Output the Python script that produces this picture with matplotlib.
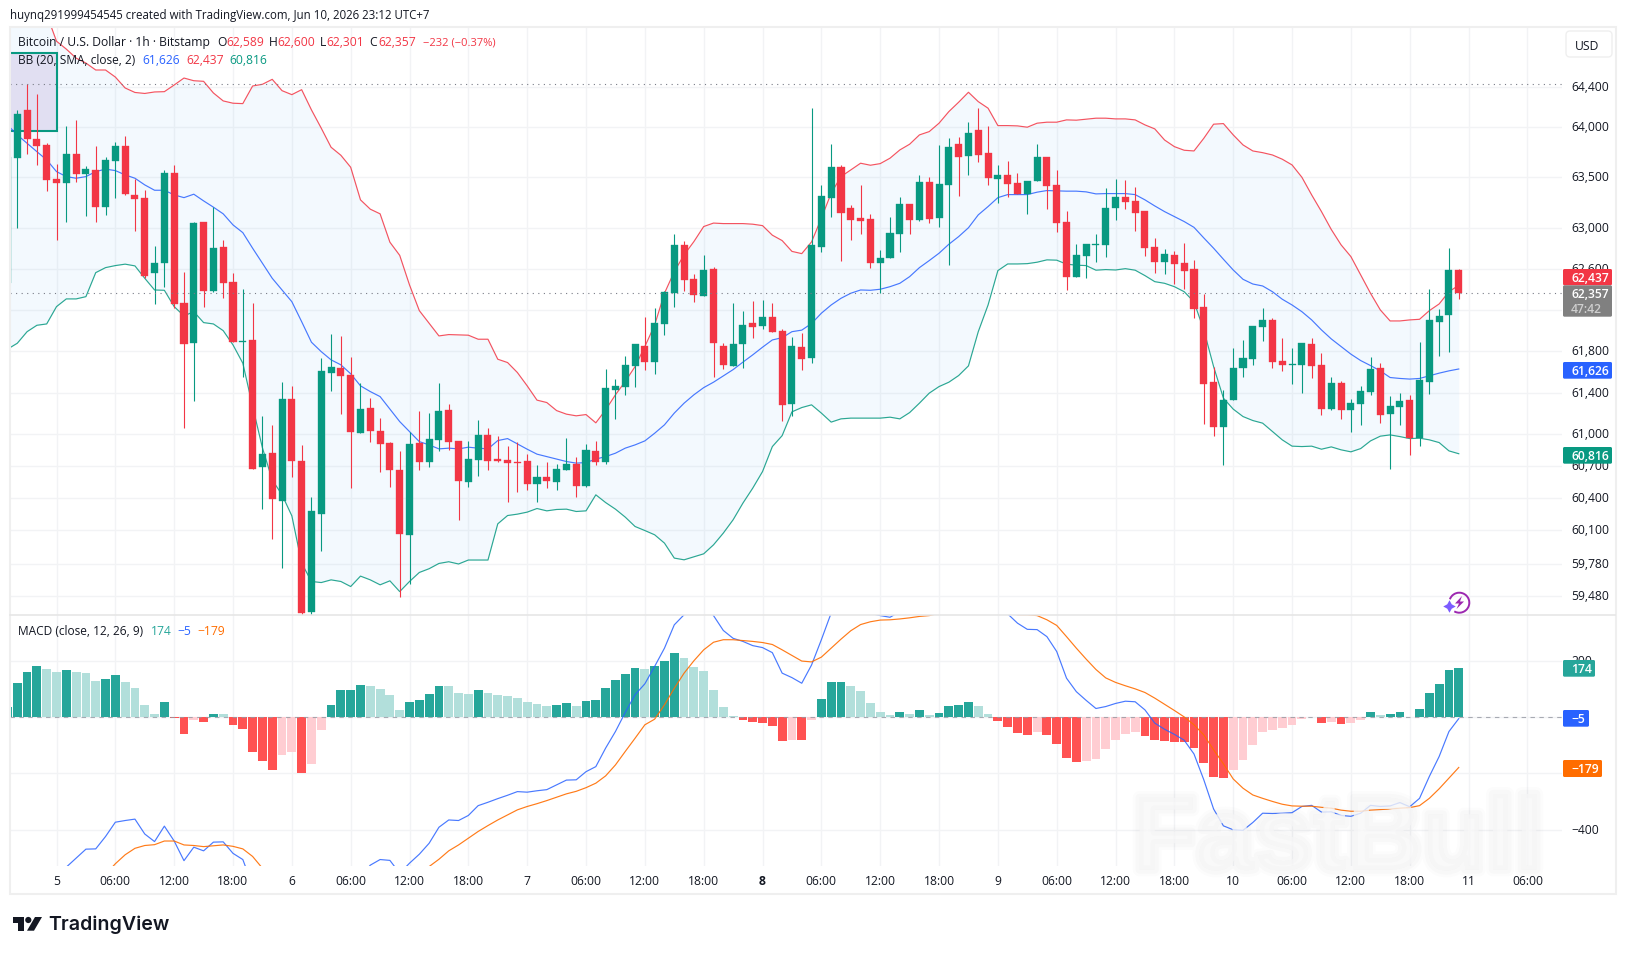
import numpy as np
import matplotlib
matplotlib.use("Agg")
import matplotlib.pyplot as plt
import matplotlib.patheffects as pe
from matplotlib.patches import FancyBboxPatch, Rectangle, Polygon, Circle, Arc
from matplotlib.transforms import ScaledTranslation

plt.rcParams['font.family'] = ['Open Sans', 'DejaVu Sans']

WIDTH, HEIGHT = 1626, 954

# Hourly bars, numbered from midnight on the 5th
bars = np.arange(-5, 144)

open_prices = [
    62459, 63694, 64170, 63880, 63820, 63483, 63446, 63730, 63535, 63572, 63209, 63664, 63810, 63324, 63295, 62560,
    62655, 63541, 62265, 61880, 63058, 62384, 62812, 62469, 61890, 61906, 60686, 60824, 60373, 61339, 60748, 59335,
    60251, 61592, 61637, 61570, 61017, 61253, 61033, 60919, 60663, 60052, 60919, 60742, 60950, 61234, 60938, 60552,
    60761, 60995, 60767, 60758, 60739, 60748, 60533, 60597, 60552, 60666, 60720, 60514, 60843, 60742, 61425, 61457,
    61659, 61848, 61697, 62064, 62365, 62832, 62498, 62335, 62596, 61848, 61659, 61870, 62071, 62045, 62129, 61993,
    61294, 61839, 61736, 62815, 63297, 63601, 63196, 63097, 63087, 62658, 62708, 62943, 63235, 63081, 63453, 63100,
    63426, 63830, 63714, 63969, 63740, 63485, 63522, 63443, 63334, 63466, 63700, 63423, 63058, 62521, 62727, 62835,
    62835, 63199, 63304, 63265, 63166, 62812, 62668, 62734, 62655, 62596, 62226, 61502, 61074, 61330, 61637, 61723,
    62032, 62100, 61704, 61668, 61666, 61868, 61666, 61244, 61492, 61234, 61291, 61406, 61637, 61196, 61263, 61330,
    60967, 61502, 62081, 62148, 62589]
high_prices = [
    63700, 64170, 64427, 64330, 63836, 63631, 64010, 64070, 63611, 63813, 63697, 63850, 63909, 63482, 63373, 62822,
    63571, 63621, 62567, 63060, 63060, 63207, 62881, 62557, 62401, 62265, 61177, 61091, 61502, 61464, 60900, 60408,
    61733, 61964, 61945, 61743, 61492, 61349, 61158, 60928, 60843, 61027, 61225, 61205, 61492, 61291, 60938, 60938,
    61138, 61062, 60986, 60891, 60928, 60815, 60711, 60739, 60720, 60967, 60786, 60910, 60938, 61627, 61531, 61752,
    61868, 62129, 62216, 62381, 62939, 62871, 62547, 62734, 62616, 61877, 62265, 62187, 62284, 62294, 62265, 62013,
    61935, 61974, 64190, 63423, 63830, 63621, 63225, 63423, 63137, 62783, 63107, 63304, 63235, 63522, 63502, 63820,
    63889, 63899, 64050, 64190, 64010, 63621, 63661, 63542, 63463, 63830, 63700, 63572, 63166, 62841, 62841, 62940,
    63393, 63482, 63472, 63403, 63166, 62900, 62792, 62773, 62851, 62685, 62352, 61646, 61425, 61829, 61906, 62042,
    62216, 62119, 61925, 61829, 61877, 61925, 61781, 61550, 61512, 61339, 61464, 61743, 61685, 61368, 61397, 61378,
    61887, 62401, 62206, 62802, 62600]
low_prices = [
    62459, 63000, 63733, 63624, 63367, 62884, 63061, 63456, 63117, 63061, 63127, 63297, 63327, 62972, 62505, 62258,
    62423, 62216, 61065, 61323, 62229, 62371, 62316, 61890, 61553, 60675, 60298, 60016, 59736, 60599, 59307, 59307,
    59904, 61419, 61199, 60495, 61017, 60931, 60645, 60505, 59475, 59593, 60657, 60694, 60846, 60856, 60186, 60505,
    60609, 60666, 60739, 60364, 60458, 60477, 60364, 60495, 60477, 60666, 60402, 60505, 60713, 60723, 61151, 61380,
    61457, 61620, 61582, 61957, 62229, 62384, 62277, 62335, 61553, 61630, 61659, 61640, 61928, 62016, 61987, 61132,
    61180, 61620, 61688, 62766, 63110, 62678, 62884, 62943, 62609, 62365, 62708, 62766, 62943, 63071, 63051, 63012,
    62639, 63317, 63525, 63654, 63426, 63248, 63307, 63337, 63140, 63466, 63189, 62962, 62394, 62521, 62511, 62668,
    62717, 63081, 63189, 62972, 62727, 62560, 62550, 62452, 62403, 62122, 61096, 60988, 60713, 61330, 61553, 61666,
    61897, 61637, 61608, 61483, 61397, 61541, 61186, 61234, 61148, 61024, 61091, 61378, 61110, 60673, 61091, 60805,
    60891, 61387, 61752, 61791, 62301]
close_prices = [
    63700, 64130, 63882, 63813, 63475, 63446, 63730, 63535, 63582, 63209, 63671, 63810, 63337, 63285, 62528, 62655,
    63541, 62258, 61871, 63048, 62384, 62802, 62462, 61890, 61897, 60675, 60815, 60389, 61339, 60751, 59326, 60276,
    61608, 61646, 61560, 61027, 61244, 61036, 60912, 60657, 60063, 60910, 60742, 60957, 61225, 60931, 60562, 60767,
    60995, 60751, 60748, 60732, 60729, 60533, 60597, 60562, 60673, 60720, 60514, 60853, 60742, 61444, 61464, 61666,
    61868, 61697, 62071, 62371, 62832, 62490, 62345, 62586, 61880, 61669, 61868, 62051, 62032, 62129, 61987, 61285,
    61848, 61726, 62832, 63314, 63601, 63150, 63081, 63070, 62658, 62704, 62949, 63235, 63081, 63453, 63090, 63433,
    63800, 63704, 63939, 63723, 63495, 63522, 63436, 63337, 63463, 63700, 63416, 63051, 62521, 62734, 62841, 62841,
    63196, 63304, 63258, 63150, 62805, 62668, 62743, 62649, 62580, 62207, 61486, 61074, 61330, 61637, 61733, 62042,
    62100, 61694, 61666, 61675, 61877, 61656, 61244, 61492, 61234, 61301, 61416, 61627, 61186, 61272, 61320, 60967,
    61521, 62100, 62139, 62586, 62357]

# Bollinger Bands (20, SMA, close, 2)
bb_upper = [
    65160, 65240, 65235, 65200, 65134, 64862, 64782, 64691, 64641, 64571, 64571, 64500, 64390, 64345, 64335, 64350,
    64353, 64420, 64490, 64463, 64457, 64340, 64260, 64237, 64233, 64410, 64427, 64477, 64363, 64323, 64373, 64170,
    63987, 63797, 63717, 63598, 63275, 63183, 63137, 62858, 62729, 62440, 62190, 62068, 61945, 61958, 61955, 61952,
    61913, 61913, 61720, 61688, 61592, 61464, 61327, 61304, 61227, 61193, 61177, 61189, 61110, 61234, 61378, 61506,
    61649, 61842, 62051, 62359, 62570, 62734, 62864, 63012, 63046, 63041, 63041, 63041, 63035, 63021, 62927, 62874,
    62768, 62746, 62861, 63094, 63341, 63505, 63572, 63638, 63618, 63634, 63688, 63770, 63827, 63920, 63953, 64037,
    64153, 64247, 64347, 64253, 64187, 64013, 64013, 64010, 63997, 64037, 64047, 64047, 64070, 64067, 64077, 64087,
    64087, 64080, 64080, 64070, 64020, 63980, 63869, 63803, 63767, 63760, 63886, 64027, 64033, 63920, 63820, 63760,
    63743, 63720, 63678, 63621, 63499, 63324, 63159, 62983, 62832, 62717, 62538, 62359, 62197, 62090, 62090, 62100,
    62106, 62190, 62255, 62374, 62437]
bb_basis = [
    64020, 63920, 63836, 63753, 63671, 63555, 63505, 63489, 63505, 63555, 63579, 63565, 63522, 63489, 63423, 63370,
    63370, 63324, 63297, 63331, 63265, 63203, 63137, 63028, 62952, 62799, 62652, 62505, 62391, 62277, 62083, 61884,
    61793, 61714, 61666, 61580, 61464, 61409, 61361, 61241, 61122, 61027, 60931, 60900, 60862, 60869, 60862, 60878,
    60869, 60862, 60941, 60960, 60910, 60859, 60812, 60789, 60765, 60742, 60727, 60732, 60765, 60789, 60821, 60869,
    60900, 60938, 61011, 61091, 61203, 61298, 61378, 61447, 61499, 61560, 61620, 61692, 61762, 61836, 61906, 61928,
    61986, 62001, 62065, 62165, 62245, 62310, 62359, 62391, 62388, 62398, 62423, 62456, 62521, 62609, 62678, 62750,
    62838, 62913, 63000, 63127, 63209, 63297, 63327, 63327, 63327, 63351, 63367, 63364, 63361, 63361, 63354, 63334,
    63337, 63337, 63337, 63327, 63275, 63215, 63159, 63110, 63061, 63004, 62900, 62799, 62691, 62586, 62495, 62449,
    62430, 62374, 62301, 62245, 62180, 62100, 62003, 61916, 61842, 61769, 61707, 61659, 61608, 61544, 61535, 61529,
    61535, 61560, 61586, 61608, 61626]
bb_lower = [
    61817, 61874, 61986, 62048, 62061, 62229, 62304, 62304, 62326, 62560, 62609, 62629, 62643, 62626, 62505, 62391,
    62388, 62229, 62139, 62180, 62074, 62061, 61996, 61858, 61682, 61266, 60872, 60568, 60427, 60229, 59786, 59615,
    59605, 59630, 59615, 59568, 59665, 59630, 59584, 59621, 59521, 59615, 59699, 59734, 59783, 59799, 59778, 59815,
    59815, 59815, 60154, 60232, 60245, 60264, 60298, 60276, 60289, 60292, 60270, 60276, 60427, 60354, 60292, 60217,
    60129, 60091, 60051, 59973, 59833, 59817, 59845, 59873, 59957, 60067, 60192, 60349, 60490, 60647, 60884, 60988,
    61215, 61256, 61282, 61203, 61117, 61148, 61155, 61155, 61155, 61155, 61164, 61148, 61208, 61298, 61394, 61457,
    61499, 61563, 61656, 61986, 62245, 62580, 62645, 62645, 62648, 62662, 62685, 62682, 62643, 62633, 62629, 62584,
    62590, 62586, 62599, 62584, 62531, 62472, 62456, 62423, 62374, 62275, 62003, 61649, 61346, 61241, 61170, 61132,
    61107, 61027, 60948, 60888, 60884, 60888, 60859, 60881, 60853, 60834, 60865, 60938, 60983, 60995, 60979, 60960,
    60964, 60948, 60922, 60843, 60816]

# MACD (close, 12, 26, 9)
macd_hist = [
    37, 122, 161, 183, 172, 161, 169, 161, 158, 129, 137, 151, 126, 104, 44, 12, 55, -2, -59, -10, -17, 12, 11, -27,
    -42, -124, -156, -188, -134, -124, -198, -166, -45, 44, 97, 98, 115, 112, 101, 80, 26, 55, 62, 83, 112, 111, 87,
    83, 97, 87, 80, 76, 69, 55, 48, 40, 44, 51, 40, 58, 62, 104, 133, 154, 176, 172, 183, 201, 229, 211, 179, 165, 97,
    37, 5, -10, -17, -20, -31, -84, -81, -82, -10, 65, 126, 127, 112, 94, 51, 19, 8, 19, 12, 26, 8, 15, 40, 44, 55,
    40, 12, -13, -34, -56, -63, -52, -63, -95, -145, -159, -156, -148, -113, -81, -59, -52, -67, -81, -84, -88, -89,
    -109, -163, -213, -216, -188, -152, -99, -52, -45, -38, -27, -6, 1, -20, -17, -24, -20, -10, 19, 8, 12, 19, 1,
    30, 87, 119, 169, 174]
macd_line = [
    -620, -610, -600, -590, -580, -560, -534, -502, -470, -469, -425, -374, -368, -363, -416, -443, -388, -441, -511,
    -463, -476, -445, -444, -485, -507, -600, -640, -680, -700, -700, -720, -740, -700, -640, -600, -580, -570, -527,
    -507, -510, -556, -520, -488, -449, -392, -366, -368, -350, -315, -303, -290, -278, -265, -267, -262, -258, -241,
    -224, -223, -194, -176, -110, -51, 17, 80, 119, 181, 246, 329, 365, 406, 406, 362, 309, 281, 270, 255, 248, 230,
    157, 141, 121, 186, 276, 371, 400, 400, 390, 370, 362, 356, 376, 390, 420, 420, 430, 440, 450, 440, 430, 410, 390,
    368, 335, 313, 312, 287, 234, 139, 91, 60, 31, 38, 49, 57, 55, 26, -21, -43, -61, -82, -131, -223, -327, -387,
    -401, -403, -375, -342, -343, -342, -340, -318, -314, -338, -337, -350, -353, -342, -314, -318, -316, -304, -319,
    -289, -211, -140, -51, -5]
macd_signal = [
    -640, -640, -630, -620, -620, -620, -610, -600, -590, -580, -560, -522, -490, -467, -457, -454, -441, -441, -455,
    -457, -461, -458, -455, -460, -469, -496, -538, -570, -590, -600, -620, -640, -650, -660, -670, -680, -680, -670,
    -650, -630, -610, -590, -560, -532, -506, -476, -455, -431, -407, -386, -366, -348, -330, -318, -308, -297, -285,
    -273, -264, -251, -235, -209, -170, -122, -75, -27, -7, 44, 103, 157, 201, 240, 267, 276, 276, 273, 270, 266, 259,
    240, 220, 200, 197, 214, 246, 278, 308, 330, 340, 346, 347, 350, 354, 359, 362, 370, 380, 390, 395, 400, 395, 385,
    375, 365, 365, 362, 347, 327, 287, 246, 207, 170, 140, 124, 112, 101, 88, 68, 46, 24, 1, -27, -63, -116, -166,
    -220, -253, -277, -289, -300, -310, -316, -317, -317, -321, -324, -331, -335, -335, -331, -329, -327, -324, -322,
    -315, -289, -255, -217, -179]

price_ticks = [64400, 64000, 63500, 63000, 62600, 62200, 61800, 61400, 61000, 60700, 60400, 60100, 59780, 59480]
price_tick_labels = ['64,400', '64,000', '63,500', '63,000', '62,600', '', '61,800', '61,400', '61,000', '60,700',
                     '60,400', '60,100', '59,780', '59,480']
macd_ticks = [200, 0, -200, -400]
macd_tick_labels = ['200', '', '\u2212200', '\u2212400']
time_tick_bars = list(range(0, 151, 6))
time_tick_labels = ['5', '06:00', '12:00', '18:00', '6', '06:00', '12:00', '18:00', '7', '06:00', '12:00', '18:00',
                    '8', '06:00', '12:00', '18:00', '9', '06:00', '12:00', '18:00', '10', '06:00', '12:00', '18:00',
                    '11', '06:00']

last_price = 62357
visible_high = 64430
marker_box = (-5, 0, 63960, 64740)  # first bar, last bar, low, high
price_limits = (59301, 65006)
macd_limits = (-530, 363)

UP, DOWN = '#089981', '#F23645'
BLUE, ORANGE = '#2962FF', '#FF6D00'
TEAL = '#26A69A'
GRID = '#F2F3F5'
INK = '#131722'
NUDGE = 1  # whole layout sits one pixel below the measured rows


def px_rect(left, top, right, bottom):
    return [left / WIDTH, 1 - (bottom + NUDGE) / HEIGHT, (right - left) / WIDTH, (bottom - top) / HEIGHT]


fig = plt.figure(figsize=(WIDTH / 100, HEIGHT / 100), dpi=100, facecolor='white')
ax = fig.add_axes(px_rect(10, 27, 1562, 615.3))
ax_macd = fig.add_axes(px_rect(10, 615.3, 1562, 866), sharex=ax)

x_start = (10 - 56.5) / 9.806
x_stop = (1562 - 56.5) / 9.806

# Price pane
ax.set_yscale('log')
ax.set_ylim(*price_limits)
ax.set_xlim(x_start, x_stop)
ax.set_yticks(price_ticks)
ax.set_yticklabels(price_tick_labels)
ax.yaxis.set_minor_locator(matplotlib.ticker.NullLocator())
ax.yaxis.set_minor_formatter(matplotlib.ticker.NullFormatter())

o, h, l, c = map(np.array, (open_prices, high_prices, low_prices, close_prices))
candle_colors = [UP if ci >= oi else DOWN for oi, ci in zip(o, c)]

ax.add_patch(Rectangle((marker_box[0], marker_box[2]), marker_box[1] - marker_box[0], marker_box[3] - marker_box[2],
                       facecolor='#E1DFF2', edgecolor=UP, linewidth=1.5, zorder=1.5))
ax.fill_between(bars, bb_lower, bb_upper, color='#2196F3', alpha=0.05, linewidth=0, zorder=1)
ax.plot(bars, bb_upper, color=DOWN, lw=0.85, alpha=0.85, zorder=2)
ax.plot(bars, bb_basis, color=BLUE, lw=0.85, alpha=0.85, zorder=2)
ax.plot(bars, bb_lower, color=UP, lw=0.85, alpha=0.85, zorder=2)
ax.vlines(bars, l, h, colors=candle_colors, linewidth=0.8, zorder=3)
ax.bar(bars, np.abs(c - o), bottom=np.minimum(o, c), width=0.72, color=candle_colors,
       edgecolor=candle_colors, linewidth=0.25, zorder=4)
ax.axhline(last_price, color='#787B86', lw=0.8, ls=(0, (1, 4)), zorder=5)
ax.axhline(visible_high, color='#787B86', lw=0.8, ls=(0, (1, 4)), zorder=5)

# MACD pane
ax_macd.set_ylim(*macd_limits)
ax_macd.set_yticks(macd_ticks)
ax_macd.set_yticklabels(macd_tick_labels)
ax_macd.set_xticks(time_tick_bars)
ax_macd.set_xticklabels(time_tick_labels)
ax_macd.get_xticklabels()[12].set_fontweight('bold')

hist_colors = []
previous = macd_hist[0] - 1
for value in macd_hist:
    if value >= 0:
        hist_colors.append(TEAL if value > previous else '#B2DFDB')
    else:
        hist_colors.append('#FF5252' if value < previous else '#FFCDD2')
    previous = value
ax_macd.bar(bars, macd_hist, width=0.9, color=hist_colors, linewidth=0, zorder=2)
ax_macd.axhline(0, color='#9598A1', lw=0.8, ls=(0, (4, 4)), alpha=0.8, zorder=3)
ax_macd.plot(bars, macd_line, color=BLUE, lw=0.85, alpha=0.85, zorder=4)
ax_macd.plot(bars, macd_signal, color=ORANGE, lw=0.85, alpha=0.9, zorder=4)

label_lift = ScaledTranslation(0, 2 / 100, fig.dpi_scale_trans)
for axis in (ax, ax_macd):
    axis.set_facecolor('white')
    axis.yaxis.tick_right()
    axis.grid(True, color=GRID, lw=1.0, zorder=0)
    axis.set_axisbelow(True)
    axis.tick_params(axis='y', length=0, pad=6.5, labelsize=8.7, labelcolor=INK)
    for spine in axis.spines.values():
        spine.set_visible(False)
    for tick in axis.yaxis.get_major_ticks():
        tick.label2.set_transform(tick.label2.get_transform() + label_lift)
ax.tick_params(axis='x', length=0, labelbottom=False)
ax_macd.tick_params(axis='x', length=0, pad=5.5, labelsize=8.7, labelcolor=INK)

# Everything placed by pixel: frame, legends, price tags, logo
over = fig.add_axes([0, 0, 1, 1], zorder=10)
over.set_xlim(0, WIDTH)
over.set_ylim(HEIGHT - NUDGE, -NUDGE)
over.axis('off')
over.patch.set_alpha(0)

over.add_patch(Rectangle((9.5, 26.5), 1606, 867, fill=False, edgecolor='#EFEFEF', lw=1.5))
over.plot([10, 1615], [615.3, 615.3], color='#E6E6E6', lw=1.2)

TEXT = dict(va='center', ha='left', fontsize=8.7, color=INK)
over.text(10, 14.5, 'huynq291999454545 created with TradingView.com, Jun 10, 2026 23:12 UTC+7',
          **{**TEXT, 'fontsize': 8.3})
over.text(18, 41.7, 'Bitcoin / U.S. Dollar \u00b7 1h \u00b7 Bitstamp', **TEXT)
for x, label, color in [(217, 'O', INK), (226, '62,589', DOWN), (269, 'H', INK), (277, '62,600', DOWN),
                        (320, 'L', INK), (326, '62,301', DOWN), (369, 'C', INK), (378, '62,357', DOWN)]:
    over.text(x, 41.7, label, **{**TEXT, 'color': color})
over.text(423, 41.7, '\u2212232 (\u22120.37%)', **{**TEXT, 'color': DOWN, 'fontsize': 8.0})
over.text(18, 59, 'BB (20, SMA, close, 2)', **{**TEXT, 'fontsize': 8.6})
for x, label, color in [(142.7, '61,626', BLUE), (186, '62,437', DOWN), (229, '60,816', UP)]:
    over.text(x, 59, label, **{**TEXT, 'color': color})
over.text(18, 630.7, 'MACD (close, 12, 26, 9)', **{**TEXT, 'fontsize': 8.55})
for x, label, color in [(151, '174', TEAL), (177, '\u22125', BLUE), (197, '\u2212179', ORANGE)]:
    over.text(x, 630.7, label, **{**TEXT, 'color': color})

over.add_patch(FancyBboxPatch((1566, 31), 46, 26, boxstyle='round,pad=0,rounding_size=4',
                              facecolor='white', edgecolor='#EFEFEF', lw=1))
over.text(1575, 45, 'USD', **TEXT)


def tag(top, bottom, right, color, label, sub=None):
    over.add_patch(FancyBboxPatch((1563, top), right - 1563, bottom - top, boxstyle='round,pad=0,rounding_size=1.5',
                                  facecolor=color, edgecolor='none', zorder=6))
    if sub is None:
        over.text(1571, (top + bottom) / 2, label, va='center', ha='left', fontsize=8.7, color='white',
                  fontweight='semibold', zorder=7)
    else:
        over.text(1571, top + 8.5, label, va='center', ha='left', fontsize=8.7, color='white',
                  fontweight='semibold', zorder=7)
        over.text(1571, top + 23, sub, va='center', ha='left', fontsize=8.7, color='#CFCFCF',
                  fontweight='semibold', zorder=7)


tag(269, 285.3, 1612, DOWN, '62,437')
tag(285.3, 316.7, 1612, '#808080', '62,357', '47:42')
tag(362, 378.7, 1612, BLUE, '61,626')
tag(447, 463.7, 1612, UP, '60,816')
tag(660, 676.7, 1595, TEAL, '174')
tag(710, 726.7, 1589, BLUE, '\u22125')
tag(760, 777, 1602, ORANGE, '\u2212179')

# Streak badge near the price axis
over.add_patch(Arc((1459.3, 602.7), 20, 20, theta1=-160, theta2=120, edgecolor='#9C27B0', lw=1.4))
over.add_patch(Polygon([(1462, 596), (1455, 603.5), (1459, 603.5), (1456.5, 609), (1464, 601.5), (1460, 601.5)],
                       closed=True, facecolor='#9C27B0', edgecolor='none'))
over.plot([1449], [606], marker=(4, 1, 0), ms=9, color='#7C5CFF', mew=0)

# Brand mark and wordmark
over.add_patch(Polygon([(12.5, 917), (24, 917), (24, 930.7), (18, 930.7), (18, 923), (12.5, 923)],
                       closed=True, facecolor=INK, edgecolor='none'))
over.add_patch(Circle((28.3, 920), 3.1, facecolor=INK, edgecolor='none'))
over.add_patch(Polygon([(35, 917), (42, 917), (34, 930.7), (27, 930.7)], closed=True, facecolor=INK, edgecolor='none'))
over.text(48.5, 923.5, 'TradingView', va='center', ha='left', fontsize=14.1, fontweight='semibold',
          color=INK, family=['Inter', 'DejaVu Sans'])

# Embossed watermark across the lower right
mark = over.text(1338, 843, 'FastBull', va='center', ha='center', fontsize=75, fontweight='bold',
                 color=(0.975, 0.975, 0.975, 0.42), family=['Liberation Sans', 'DejaVu Sans'], zorder=5)
mark.set_path_effects([pe.Stroke(linewidth=10, foreground=(0, 0, 0, 0.012)),
                       pe.Stroke(linewidth=6, foreground=(0, 0, 0, 0.016)),
                       pe.Normal()])

fig.savefig('out.png', dpi=100, facecolor='white')
